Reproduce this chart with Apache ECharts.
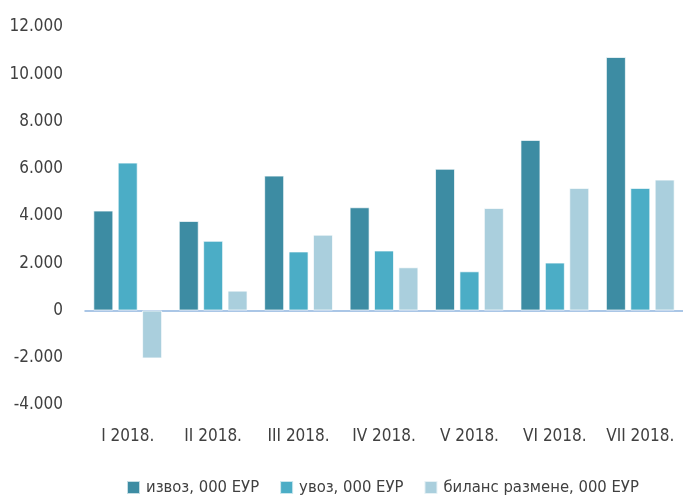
<!DOCTYPE html>
<html>
<head>
<meta charset="utf-8">
<script src="https://cdn.jsdelivr.net/npm/echarts@6/dist/echarts.min.js"></script>
<style>
  html, body { margin: 0; padding: 0; background: #fff; }
  #chart { width: 683px; height: 497px; }
</style>
</head>
<body>
<div id="chart"></div>
<script>
const categories = ['I 2018.', 'II 2018.', 'III 2018.', 'IV 2018.', 'V 2018.', 'VI 2018.', 'VII 2018.']
const seriesNames = ['извоз, 000 ЕУР', 'увоз, 000 ЕУР', 'биланс размене, 000 ЕУР']
const exportValues = [4230, 3790, 5710, 4370, 6000, 7220, 10730]
const importValues = [6260, 2950, 2500, 2540, 1660, 2030, 5190]
const balanceValues = [-2030, 840, 3210, 1830, 4340, 5190, 5540]
const yTicks = { min: -4000, max: 12000, interval: 2000 }
const colors = ['#3d8ca3', '#4badc6', '#aacfdd']

// уски фонт: font-stretch иде кроз fontWeight у CSS скраћеници
const font = '"DejaVu Sans", sans-serif'
const stretch = 'condensed'
const textColor = '#404040'

const chart = echarts.init(document.getElementById('chart'))

// 1.000 с тачком као сепаратор хиљада
const fmt = v => {
  const s = Math.abs(v).toString().replace(/\B(?=(\d{3})+(?!\d))/g, '.')
  return (v < 0 ? '-' : '') + s
}

const barStyle = color => ({
  color: color,
  borderColor: 'rgba(255,255,255,0.7)',
  borderWidth: 1
})

const data = [exportValues, importValues, balanceValues]

const label = { color: textColor, fontSize: 17, fontFamily: font, fontWeight: stretch }

chart.setOption({
  animation: false,
  color: colors,
  grid: { left: 85, right: 0, top: 27, bottom: 92 },
  legend: {
    top: 479,
    left: 126,
    padding: 0,
    itemWidth: 13,
    itemHeight: 13,
    itemGap: 20,
    icon: 'rect',
    textStyle: Object.assign({}, label, { fontSize: 16.5, padding: [0, 0, 0, 1] }),
    data: seriesNames
  },
  xAxis: [
    {
      type: 'category',
      data: categories,
      position: 'bottom',
      axisLine: { show: false, onZero: false },
      axisTick: { show: false },
      axisLabel: Object.assign({}, label, { margin: 23, interval: 0 })
    },
    {
      type: 'category',
      data: categories,
      position: 'bottom',
      axisLine: { show: true, onZero: true, lineStyle: { color: '#8fb4de', width: 1.5 } },
      axisTick: { show: false },
      axisLabel: { show: false }
    }
  ],
  yAxis: {
    type: 'value',
    min: yTicks.min,
    max: yTicks.max,
    interval: yTicks.interval,
    axisLine: { show: false },
    axisTick: { show: false },
    splitLine: { show: false },
    axisLabel: Object.assign({}, label, { margin: 22, padding: [6, 0, 0, 0], formatter: fmt })
  },
  series: seriesNames.map((name, i) => ({
    name: name,
    type: 'bar',
    xAxisIndex: 0,
    barWidth: 20,
    barGap: '22%',
    itemStyle: barStyle(colors[i]),
    data: data[i]
  }))
})
</script>
</body>
</html>
